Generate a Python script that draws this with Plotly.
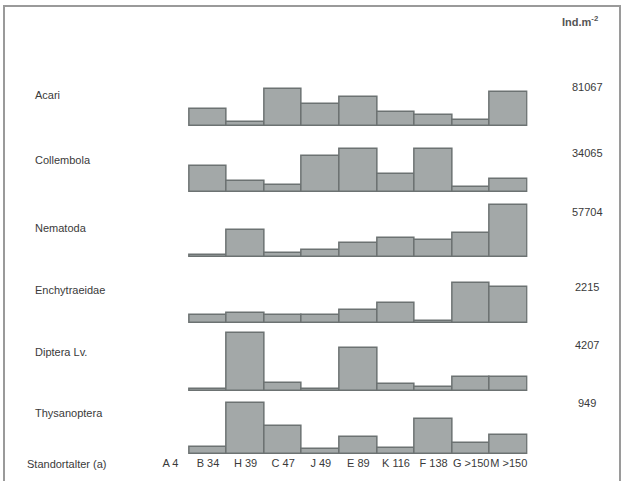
import plotly.graph_objects as go
from plotly.subplots import make_subplots

# Sites with age (a)
categories = ["A 4", "B 34", "H 39", "C 47", "J 49", "E 89", "K 116", "F 138", "G >150", "M >150"]

# Relative abundance per site (relative bar heights, A 4 has no bar)
acari         = [None, 16.7, 4.0, 36.7, 22.3, 29.0, 14.0, 11.3, 6.3, 34.0]
collembola    = [None, 25.7, 10.7, 7.3, 35.7, 43.3, 18.0, 43.0, 5.3, 13.0]
nematoda      = [None, 1.7, 26.7, 4.3, 6.7, 14.3, 19.0, 16.7, 24.0, 51.7]
enchytraeidae = [None, 8.0, 10.3, 8.0, 8.0, 12.7, 20.0, 2.3, 40.3, 35.7]
diptera       = [None, 1.7, 58.0, 8.0, 1.7, 42.7, 6.7, 4.0, 13.7, 13.7]
thysanoptera  = [None, 7.3, 50.7, 28.0, 5.3, 17.3, 6.3, 34.7, 11.3, 19.0]

groups = ["Acari", "Collembola", "Nematoda", "Enchytraeidae", "Diptera Lv.", "Thysanoptera"]
series = [acari, collembola, nematoda, enchytraeidae, diptera, thysanoptera]
totals = ["81067", "34065", "57704", "2215", "4207", "949"]

W, H = 623, 481
baselines_px = [126, 192, 257, 323, 391, 454]
label_y_px = [95, 160, 228, 290, 352, 413]
total_y_px = [87, 153, 212, 287, 345, 403]
row_h = 60

fig = make_subplots(rows=6, cols=1, shared_xaxes=True)
x_dom = [151.6 / W, 527.6 / W]

for i, (name, vals) in enumerate(zip(groups, series)):
    r = i + 1
    fig.add_trace(go.Bar(
        x=categories, y=vals, name=name,
        marker=dict(color="#a3a8a8", line=dict(color="#6c7272", width=1.5)),
        showlegend=False,
    ), row=r, col=1)
    b = baselines_px[i]
    ydom = [1 - b / H, 1 - (b - row_h) / H]
    yk = "yaxis" if r == 1 else f"yaxis{r}"
    xk = "xaxis" if r == 1 else f"xaxis{r}"
    fig.layout[yk].update(domain=ydom, range=[0, row_h], visible=False)
    fig.layout[xk].update(domain=x_dom, range=[-0.5, 9.5], showgrid=False,
                          showline=False, zeroline=False, ticks="",
                          showticklabels=(r == 6))
    fig.add_annotation(text=name, xref="paper", yref="paper",
                       x=33 / W, y=1 - label_y_px[i] / H, xanchor="left",
                       yanchor="middle", showarrow=False,
                       font=dict(size=11, color="#3a3a3a"))
    fig.add_annotation(text=totals[i], xref="paper", yref="paper",
                       x=587 / W, y=1 - total_y_px[i] / H, xanchor="center",
                       yanchor="middle", showarrow=False,
                       font=dict(size=11, color="#3a3a3a"))

fig.layout.xaxis6.update(tickfont=dict(size=11, color="#3a3a3a",
                                       family="Liberation Sans, Arial, sans-serif"),
                         tickangle=0, ticklabelstandoff=1)

fig.add_annotation(text="Standortalter (a)", xref="paper", yref="paper",
                   x=25 / W, y=1 - 464 / H, xanchor="left", yanchor="middle",
                   showarrow=False, font=dict(size=11, color="#3a3a3a"))
fig.add_annotation(text="<b>Ind.m<sup>-2</sup></b>", xref="paper", yref="paper",
                   x=580 / W, y=1 - 21 / H, xanchor="center", yanchor="middle",
                   showarrow=False, font=dict(size=11, color="#555555"))

fig.add_shape(type="rect", xref="paper", yref="paper",
              x0=4 / W, x1=620 / W, y0=-0.05, y1=1 - 6 / H,
              line=dict(color="#9a9a9a", width=2))

fig.update_layout(
    width=W, height=H,
    margin=dict(l=0, r=0, t=0, b=0),
    paper_bgcolor="white", plot_bgcolor="rgba(0,0,0,0)",
    bargap=0,
    font=dict(family="Liberation Sans, Arial, sans-serif"),
)

fig.write_html("out.html")
